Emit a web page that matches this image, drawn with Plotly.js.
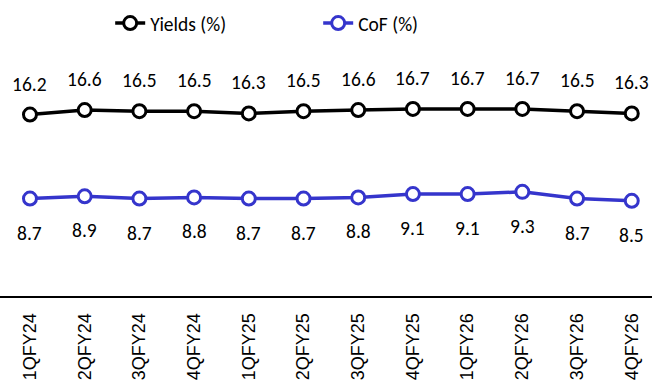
<!DOCTYPE html>
<html><head><meta charset="utf-8">
<script src="https://cdn.plot.ly/plotly-3.0.1.min.js"></script>
<style>html,body{margin:0;padding:0;background:#fff}#c{width:652px;height:389px}</style>
</head><body><div id="c"></div>
<script>
const categories = ['1QFY24','2QFY24','3QFY24','4QFY24','1QFY25','2QFY25','3QFY25','4QFY25','1QFY26','2QFY26','3QFY26','4QFY26'];
const yields = [16.2,16.6,16.5,16.5,16.3,16.5,16.6,16.7,16.7,16.7,16.5,16.3];
const cof = [8.7,8.9,8.7,8.8,8.7,8.7,8.8,9.1,9.1,9.3,8.7,8.5];
const seriesNames = ['Yields (%)','CoF (%)'];

const fam = 'Carlito, Calibri, "Liberation Sans", Arial, sans-serif';
const labelFont = {family:fam, size:19.5, color:'#000'};
const ann = [];
categories.forEach((c,i)=>{
  ann.push({x:c, y:yields[i], text:yields[i].toFixed(1), showarrow:false, yshift:31, font:labelFont, xref:'x', yref:'y'});
  ann.push({x:c, y:cof[i], text:cof[i].toFixed(1), showarrow:false, yshift:-34, font:labelFont, xref:'x', yref:'y'});
});

const traces = [
  {x:categories, y:yields, name:seriesNames[0], type:'scatter', mode:'lines+markers',
   line:{color:'#000000', width:3.5}, marker:{symbol:'circle', size:13, color:'#ffffff', line:{color:'#000000', width:3}}},
  {x:categories, y:cof, name:seriesNames[1], type:'scatter', mode:'lines+markers',
   line:{color:'#3535CC', width:3.5}, marker:{symbol:'circle', size:13, color:'#ffffff', line:{color:'#3535CC', width:3}}}
];

const layout = {
  width:652, height:389,
  margin:{l:0, r:0, t:72, b:93},
  paper_bgcolor:'#fff', plot_bgcolor:'#fff',
  showlegend:true,
  legend:{orientation:'h', x:0.169, xanchor:'left', y:0.99, yanchor:'top', yref:'container',
    entrywidth:163, entrywidthmode:'pixels',
    font:{family:fam, size:19.5, color:'#000'}, bgcolor:'rgba(0,0,0,0)'},
  xaxis:{type:'category', range:[-0.548, 11.37], showline:true, linecolor:'#000', linewidth:2,
    ticks:'', showgrid:false, zeroline:false, tickangle:-90, ticklabelstandoff:8,
    tickfont:{family:'"Liberation Sans", Arial, sans-serif', size:18, color:'#000'}},
  yaxis:{range:[0,20], visible:false, showgrid:false, zeroline:false},
  annotations:ann
};
Plotly.newPlot('c', traces, layout, {staticPlot:true, displayModeBar:false});
</script></body></html>
